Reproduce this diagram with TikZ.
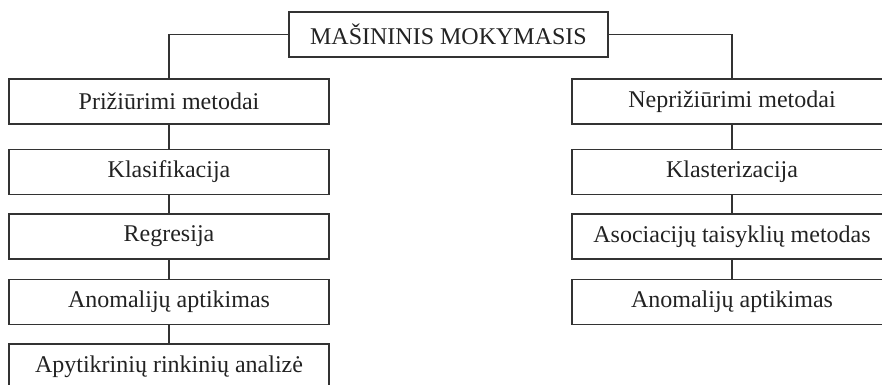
\documentclass[tikz,border=0pt]{standalone}
\usepackage{fontspec}
\setmainfont{Liberation Serif}
\definecolor{linec}{HTML}{333333}
\definecolor{textc}{HTML}{222222}
\begin{document}
\begin{tikzpicture}[x=1pt,y=-1pt,
  box/.style={draw=linec, line width=1.1pt, minimum width=320pt, minimum height=45pt, inner sep=0pt, text=textc, font=\fontsize{24}{28}\selectfont, anchor=center},
  topbox/.style={draw=linec, line width=1.1pt, minimum width=319pt, minimum height=45pt, inner sep=0pt, text=textc, font=\fontsize{24}{28}\selectfont},
  conn/.style={draw=linec, line width=1.1pt}]
\useasboundingbox (0,0) rectangle (882,384);
\clip (0,0) rectangle (882,384);
\node[topbox] (root) at (448.5,34.5) {MAŠININIS MOKYMASIS};
% left column
\node[box] (l1) at (169,101.5) {Prižiūrimi metodai};
\node[box] (l2) at (169,172) {Klasifikacija};
\node[box] (l3) at (169,236.5) {Regresija};
\node[box] (l4) at (169,302) {Anomalijų aptikimas};
\node[box] (l5) at (169,366.5) {Apytikrinių rinkinių analizė};
% right column
\node[box] (r1) at (732,101.5) {Neprižiūrimi metodai};
\node[box] (r2) at (732,172) {Klasterizacija};
\node[box] (r3) at (732,236.5) {Asociacijų taisyklių metodas};
\node[box] (r4) at (732,302) {Anomalijų aptikimas};
% connectors
\draw[conn] (root.west) -| (l1.north);
\draw[conn] (root.east) -| (r1.north);
\draw[conn] (l1) -- (l2);
\draw[conn] (l2) -- (l3);
\draw[conn] (l3) -- (l4);
\draw[conn] (l4) -- (l5);
\draw[conn] (r1) -- (r2);
\draw[conn] (r2) -- (r3);
\draw[conn] (r3) -- (r4);
\end{tikzpicture}
\end{document}
